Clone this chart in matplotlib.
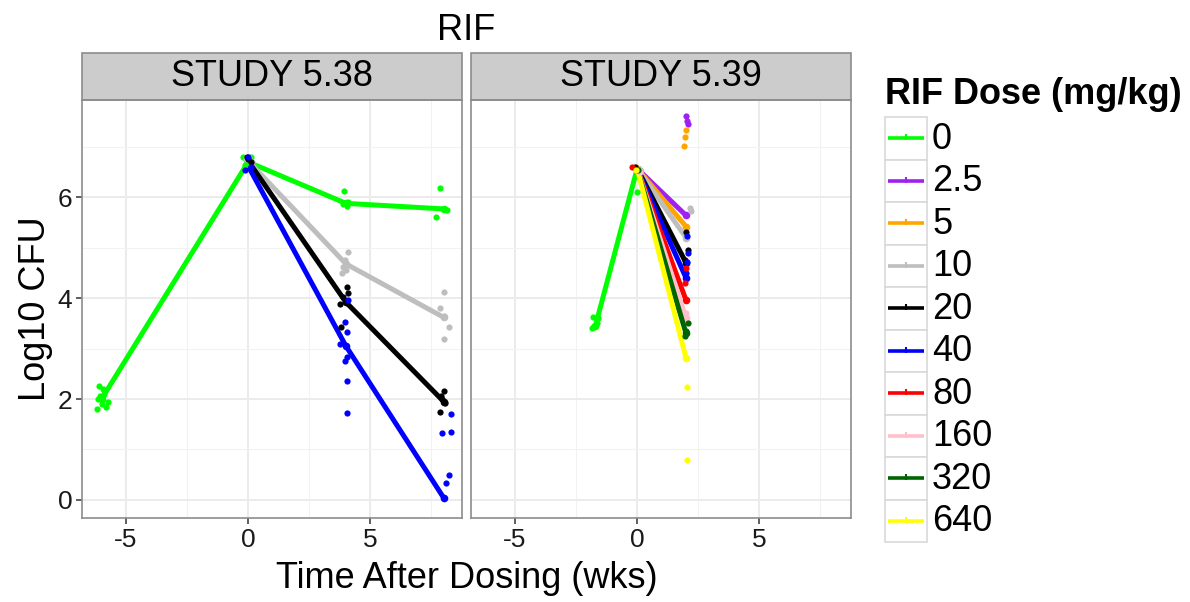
import numpy as np
import matplotlib
matplotlib.use("Agg")
import matplotlib.pyplot as plt
from matplotlib.patches import Rectangle

plt.rcParams["font.family"] = ["Liberation Sans", "DejaVu Sans"]
plt.rcParams["axes.unicode_minus"] = False

doses = ["0", "2.5", "5", "10", "20", "40", "80", "160", "320", "640"]
dose_colors = ["#00FF00", "#A020F0", "#FFA500", "#BEBEBE", "#000000",
               "#0000FF", "#FF0000", "#FFC0CB", "#006400", "#FFFF00"]
studies = ["STUDY 5.38", "STUDY 5.39"]

# --- STUDY 5.38: observed points (time in weeks, log10 CFU) ---
s38_obs_t = {
    "0": [-6.2, -6.1, -6.0, -5.9, -5.8, -6.15, -5.95, -5.75, -6.05,
          -0.2, -0.1, 0.0, 0.1, -0.15,
          3.92, 3.9, 4.05, 4.1,
          7.87, 7.7, 8.15],
    "10": [-0.1, 0.05, 0.15, 4.1, 3.95, 3.9, 3.85, 4.0, 8.0, 7.85, 8.0, 8.2, 8.02],
    "20": [-0.05, 0.1, 0.0, 4.05, 3.9, 3.77, 3.8, 4.1, 8.0, 7.95, 8.05, 7.9, 7.85],
    "40": [-0.15, 0.0, 0.1, 4.1, 3.97, 4.05, 3.77, 4.03, 3.95, 4.03, 4.03,
           8.3, 8.3, 7.95, 8.2, 8.1],
}
s38_obs_y = {
    "0": [1.8, 2.25, 1.9, 2.1, 1.85, 2.0, 2.2, 1.95, 2.05,
          6.8, 6.75, 6.7, 6.8, 6.65,
          6.12, 5.86, 5.82, 5.9,
          6.18, 5.6, 5.74],
    "10": [6.75, 6.8, 6.7, 4.92, 4.75, 4.62, 4.49, 4.55, 4.13, 3.8, 3.64, 3.43, 3.19],
    "20": [6.8, 6.7, 6.75, 4.22, 4.03, 3.89, 3.43, 4.1, 2.15, 2.0, 1.92, 2.05, 1.75],
    "40": [6.55, 6.8, 6.6, 3.96, 3.53, 3.33, 3.1, 2.84, 2.75, 2.35, 1.72,
           1.70, 1.35, 1.33, 0.50, 0.33],
}
# fitted profiles
s38_fit_t = {"0": [-6, 0, 4, 8], "10": [0, 4, 8], "20": [0, 4, 8], "40": [0, 4, 8]}
s38_fit_y = {"0": [2.0, 6.7, 5.88, 5.77], "10": [6.72, 4.68, 3.62],
             "20": [6.72, 3.92, 1.95], "40": [6.62, 3.05, 0.04]}

# --- STUDY 5.39 ---
s39_obs_t = {
    "0": [-1.85, -1.75, -1.65, -1.6, -1.8, 0.0, 0.1],
    "2.5": [0.05, 2.0, 2.05, 2.1],
    "5": [-0.05, 2.0, 1.95, 1.9],
    "10": [0.1, 2.15, 2.2],
    "20": [-0.1, 2.0, 2.1, 1.95],
    "40": [0.0, 2.05, 2.1, 2.05, 2.0],
    "80": [-0.2, 2.0, 1.95],
    "160": [0.1, 2.0],
    "320": [0.05, 2.1, 2.0, 1.95],
    "640": [-0.05, 2.05, 2.05],
}
s39_obs_y = {
    "0": [3.4, 3.45, 3.5, 3.6, 3.62, 6.1, 6.55],
    "2.5": [6.55, 7.62, 7.52, 7.45],
    "5": [6.6, 7.33, 7.19, 7.02],
    "10": [6.55, 5.78, 5.72],
    "20": [6.6, 5.32, 4.95, 4.75],
    "40": [6.55, 5.24, 4.9, 4.72, 4.5],
    "80": [6.6, 4.6, 4.3],
    "160": [6.5, 3.7],
    "320": [6.55, 3.5, 3.35, 3.25],
    "640": [6.55, 2.23, 0.79],
}
s39_fit_t = {d: [0, 2] for d in doses[1:]}
s39_fit_t["0"] = [-1.71, 0]
s39_fit_y = {"0": [3.45, 6.57], "2.5": [6.57, 5.64], "5": [6.57, 5.42],
             "10": [6.57, 5.2], "20": [6.57, 4.7], "40": [6.57, 4.4],
             "80": [6.57, 3.96], "160": [6.57, 3.6], "320": [6.57, 3.3],
             "640": [6.57, 2.81]}

panels = [(s38_obs_t, s38_obs_y, s38_fit_t, s38_fit_y),
          (s39_obs_t, s39_obs_y, s39_fit_t, s39_fit_y)]

W, H = 1190, 602
fig = plt.figure(figsize=(W / 100, H / 100), dpi=100)

border = "#8c8c8c"
panel_l = [82, 471]
panel_w = 380
top_px, bot_px = 100, 518
strip_px = 47

axes = []
for i, (obs_t, obs_y, fit_t, fit_y) in enumerate(panels):
    ax = fig.add_axes([panel_l[i] / W, 1 - bot_px / H, panel_w / W, (bot_px - top_px) / H])
    axes.append(ax)
    ax.set_xticks([-5, 0, 5])
    ax.set_yticks([0, 2, 4, 6])
    ax.set_xticks([-7.5, -2.5, 2.5, 7.5], minor=True)
    ax.set_yticks([1, 3, 5, 7], minor=True)
    ax.set_xlim(-6.8, 8.75)
    ax.set_ylim(-0.36, 7.93)
    ax.grid(True, which="major", color="#EBEBEB", lw=1.4)
    ax.grid(True, which="minor", color="#F2F2F2", lw=0.8)
    ax.set_axisbelow(True)
    for s in ax.spines.values():
        s.set_color(border)
        s.set_linewidth(1.2)
    ax.tick_params(which="minor", length=0)
    ax.tick_params(which="major", length=4, width=1.1, color="#333333",
                   labelsize=19, labelcolor="#1a1a1a", pad=3)
    if i == 1:
        ax.tick_params(labelleft=False, length=0, axis="y")

    for d, c in zip(doses, dose_colors):
        if d in fit_t:
            ax.plot(fit_t[d], fit_y[d], color=c, lw=3.6, solid_capstyle="round",
                    marker="o", ms=4.5, zorder=3)
        if d in obs_t:
            ax.scatter(obs_t[d], obs_y[d], s=20, color=c, lw=0, zorder=4)

    # facet strip
    ax.add_patch(Rectangle((0, 1), 1, strip_px / (bot_px - top_px),
                           transform=ax.transAxes, clip_on=False,
                           facecolor="#CCCCCC", edgecolor=border, lw=1.2))
    ax.text(0.5, 1 + strip_px / 2 / (bot_px - top_px), studies[i],
            transform=ax.transAxes, ha="center", va="center", fontsize=26)

fig.text(466 / W, 1 - 30 / H, "RIF", ha="center", va="center", fontsize=26)
fig.text(467 / W, 1 - 578 / H, "Time After Dosing (wks)", ha="center",
         va="center", fontsize=26)
fig.text(36 / W, 1 - 309 / H, "Log10 CFU", ha="center", va="center",
         rotation=90, fontsize=26)

# legend
lg = fig.add_axes([0, 0, 1, 1], facecolor="none")
lg.set_xlim(0, W)
lg.set_ylim(H, 0)
lg.axis("off")
lg.text(885, 95, "RIF Dose (mg/kg)", ha="left", va="center",
        fontsize=26, fontweight="bold")
key_top, key_h, key_x, key_w = 117, 42.5, 885, 42
for k, (d, c) in enumerate(zip(doses, dose_colors)):
    y0 = key_top + k * key_h
    lg.add_patch(Rectangle((key_x, y0), key_w, key_h, facecolor="white",
                           edgecolor="#D9D9D9", lw=1.2))
    yc = y0 + key_h / 2
    lg.plot([key_x + 3, key_x + key_w - 3], [yc, yc], color=c, lw=2.6,
            solid_capstyle="butt")
    lg.plot([key_x + key_w / 2], [yc - 1], marker="|", ms=5, mew=1.5, color=c)
    lg.text(key_x + key_w + 5, yc + 1, d, ha="left", va="center", fontsize=26)

fig.savefig("out.png", dpi=100)
